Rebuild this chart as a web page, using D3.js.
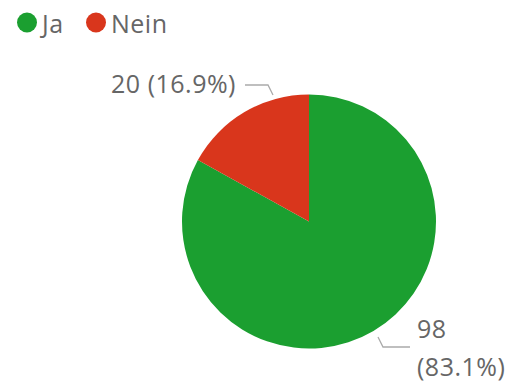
<!DOCTYPE html>
<html>
<head>
<meta charset="utf-8">
<script src="https://cdn.jsdelivr.net/npm/d3@7"></script>
<style>
  html, body { margin: 0; padding: 0; background: #fff; }
  svg { display: block; }
  text { font-family: "Open Sans", "Noto Sans", sans-serif; fill: #666; letter-spacing: 0.5px; }
</style>
</head>
<body>
<svg id="chart" width="524" height="383"></svg>
<script>
// Survey answers
const categories = ["Ja", "Nein"];
const counts = [98, 20];
const colors = ["#1b9f30", "#d9361c"];

const svg = d3.select("#chart");
const cx = 309, cy = 221.5, radius = 127;
const fontSize = "25px";

const total = d3.sum(counts);
const data = categories.map((c, i) => ({ name: c, value: counts[i], color: colors[i] }));

// Legend
const legend = svg.append("g");
const legendX = [27, 96];
data.forEach((d, i) => {
  const g = legend.append("g").attr("transform", `translate(${legendX[i]},22.5)`);
  g.append("circle").attr("r", 10).attr("fill", d.color);
  g.append("text").attr("x", 15).attr("y", 10)
    .style("font-size", fontSize).text(d.name);
});

// Pie: first slice starts at 12 o'clock and runs clockwise
const pie = d3.pie().sort(null).value(d => d.value);
const arcs = pie(data);
const arc = d3.arc().innerRadius(0).outerRadius(radius);

const g = svg.append("g").attr("transform", `translate(${cx},${cy})`);
g.selectAll("path").data(arcs).join("path")
  .attr("d", arc)
  .attr("fill", d => d.data.color);

// Data labels with leader lines
const fmtPct = d3.format(".1%");
const labelLines = svg.append("g").attr("fill", "none").attr("stroke", "#aaa").attr("stroke-width", 1.3);

// "Nein" label, upper left
const nein = arcs[1];
labelLines.append("polyline").attr("points", [[245, 85], [268, 85], [273, 95]].join(" "));
svg.append("text").attr("x", 236).attr("y", 93).attr("text-anchor", "end")
  .style("font-size", fontSize)
  .text(`${nein.data.value} (${fmtPct(nein.data.value / total)})`);

// "Ja" label, lower right
const ja = arcs[0];
labelLines.append("polyline").attr("points", [[378, 337], [383, 347], [410, 347]].join(" "));
const jaText = svg.append("text").style("font-size", fontSize);
jaText.append("tspan").attr("x", 417).attr("y", 338).text(ja.data.value);
jaText.append("tspan").attr("x", 417).attr("y", 376).text(`(${fmtPct(ja.data.value / total)})`);
</script>
</body>
</html>
